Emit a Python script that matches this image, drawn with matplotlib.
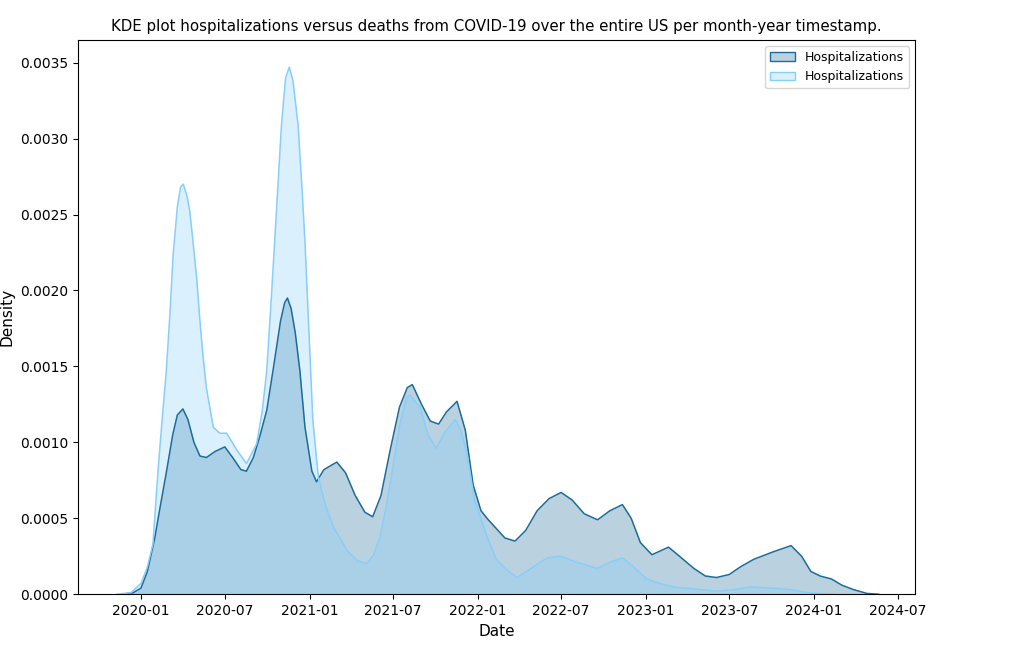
import matplotlib
matplotlib.use('Agg')

import matplotlib.pyplot as plt
import matplotlib.dates as mdates
import pandas as pd

# === Data (density per date) ===
hosp_dates = [
    "2019-11-20", "2019-12-15", "2020-01-01", "2020-01-15", "2020-01-31", "2020-02-12",
    "2020-02-25", "2020-03-10", "2020-03-20", "2020-04-01", "2020-04-12", "2020-04-25",
    "2020-05-08", "2020-05-22", "2020-06-10", "2020-07-01", "2020-07-18", "2020-08-05",
    "2020-08-17", "2020-09-01", "2020-09-15", "2020-09-30", "2020-10-15", "2020-10-30",
    "2020-11-08", "2020-11-14", "2020-11-22", "2020-12-01", "2020-12-11", "2020-12-22",
    "2021-01-06", "2021-01-16", "2021-02-01", "2021-03-01", "2021-03-20", "2021-04-10",
    "2021-05-01", "2021-05-18", "2021-06-05", "2021-06-25", "2021-07-15", "2021-08-01",
    "2021-08-12", "2021-09-01", "2021-09-20", "2021-10-08", "2021-10-25", "2021-11-17",
    "2021-12-05", "2021-12-22", "2022-01-08", "2022-01-21", "2022-02-05", "2022-03-01",
    "2022-03-23", "2022-04-15", "2022-05-10", "2022-06-05", "2022-07-01", "2022-07-25",
    "2022-08-20", "2022-09-18", "2022-10-15", "2022-11-11", "2022-11-30", "2022-12-20",
    "2023-01-14", "2023-02-19", "2023-03-15", "2023-04-15", "2023-05-10", "2023-06-03",
    "2023-07-01", "2023-07-25", "2023-08-23", "2023-10-05", "2023-11-12", "2023-12-05",
    "2023-12-25", "2024-01-14", "2024-02-08", "2024-03-01", "2024-03-27", "2024-04-25",
    "2024-05-20",
]
hosp_density = [
    0.0, 0.00001, 0.00004, 0.00015, 0.00037, 0.00058,
    0.00080, 0.00105, 0.00118, 0.00122, 0.00115, 0.00100,
    0.00091, 0.00090, 0.00094, 0.00097, 0.00090, 0.00082,
    0.00081, 0.00090, 0.00104, 0.00121, 0.00150, 0.00180,
    0.00192, 0.00195, 0.00188, 0.00172, 0.00147, 0.00110,
    0.00081, 0.00074, 0.00082, 0.00087, 0.00080, 0.00065,
    0.00054, 0.00051, 0.00065, 0.00095, 0.00123, 0.00136,
    0.00138, 0.00125, 0.00114, 0.00112, 0.00120, 0.00127,
    0.00108, 0.00072, 0.00055, 0.00050, 0.00045, 0.00037,
    0.00035, 0.00042, 0.00055, 0.00063, 0.00067, 0.00062,
    0.00053, 0.00049, 0.00055, 0.00059, 0.00050, 0.00034,
    0.00026, 0.00031, 0.00025, 0.00017, 0.00012, 0.00011,
    0.00013, 0.00018, 0.00023, 0.00028, 0.00032, 0.00025,
    0.00015, 0.00012, 0.00010, 0.00006, 0.00003, 0.000005,
    0.0,
]

# second series (labelled the same in the original legend)
second_dates = [
    "2019-11-10", "2019-12-10", "2020-01-01", "2020-01-15", "2020-01-27", "2020-02-07",
    "2020-02-16", "2020-02-25", "2020-03-04", "2020-03-11", "2020-03-20", "2020-03-27",
    "2020-04-02", "2020-04-10", "2020-04-16", "2020-04-22", "2020-05-01", "2020-05-08",
    "2020-05-15", "2020-05-22", "2020-06-06", "2020-06-20", "2020-07-05", "2020-07-27",
    "2020-08-17", "2020-09-08", "2020-09-20", "2020-09-30", "2020-10-10", "2020-10-22",
    "2020-11-01", "2020-11-10", "2020-11-18", "2020-11-26", "2020-12-07", "2020-12-15",
    "2020-12-22", "2020-12-31", "2021-01-08", "2021-01-20", "2021-02-05", "2021-02-22",
    "2021-03-23", "2021-04-15", "2021-05-05", "2021-05-20", "2021-06-03", "2021-06-18",
    "2021-07-02", "2021-07-16", "2021-07-31", "2021-08-07", "2021-08-29", "2021-09-15",
    "2021-10-03", "2021-10-20", "2021-11-13", "2021-11-25", "2021-12-09", "2021-12-25",
    "2022-01-21", "2022-02-10", "2022-03-05", "2022-03-27", "2022-05-02", "2022-06-01",
    "2022-07-01", "2022-08-05", "2022-09-17", "2022-10-15", "2022-11-11", "2022-12-05",
    "2023-01-03", "2023-02-01", "2023-03-02", "2023-05-01", "2023-06-04", "2023-07-10",
    "2023-08-16", "2023-10-01", "2023-11-11", "2023-12-20", "2024-01-15", "2024-02-15",
]
second_density = [
    0.0, 0.00001, 0.00007, 0.00018, 0.00033, 0.00081,
    0.00115, 0.00147, 0.00185, 0.00224, 0.00255, 0.00268,
    0.00270, 0.00262, 0.00252, 0.00235, 0.00208, 0.00180,
    0.00156, 0.00136, 0.00110, 0.00106, 0.00106, 0.00095,
    0.00086, 0.00099, 0.00120, 0.00147, 0.00195, 0.00257,
    0.00309, 0.00340, 0.00347, 0.00338, 0.00309, 0.00270,
    0.00232, 0.00170, 0.00115, 0.00077, 0.00058, 0.00044,
    0.00029, 0.00022, 0.00020, 0.00026, 0.00038, 0.00060,
    0.00086, 0.00112, 0.00130, 0.00131, 0.00123, 0.00105,
    0.00096, 0.00106, 0.00115, 0.00108, 0.00092, 0.00062,
    0.00038, 0.00023, 0.00016, 0.00011, 0.00018, 0.00024,
    0.00025, 0.00021, 0.00017, 0.00021, 0.00024, 0.00018,
    0.00010, 0.00007, 0.000048, 0.00003, 0.00002, 0.00003,
    0.000048, 0.00004, 0.00003, 0.00001, 0.000005, 0.0,
]

series_labels = ["Hospitalizations", "Hospitalizations"]
dark_color = "#1d6b98"
light_color = "#87cefa"

# === Plot ===
fig = plt.figure(figsize=(10.24, 6.53), dpi=100)
ax = fig.add_axes([0.076, 0.090, 0.818, 0.849])

x1 = pd.to_datetime(hosp_dates)
x2 = pd.to_datetime(second_dates)

ax.fill_between(x1, hosp_density, color=dark_color, alpha=0.3, linewidth=0)
ax.plot(x1, hosp_density, color=dark_color, linewidth=1.1)
ax.fill_between(x2, second_density, color=light_color, alpha=0.3, linewidth=0)
ax.plot(x2, second_density, color=light_color, linewidth=1.1)

# legend patches like seaborn's filled kde
handles = [
    plt.Rectangle((0, 0), 1, 1, facecolor=matplotlib.colors.to_rgba(dark_color, 0.3),
                  edgecolor=dark_color, label=series_labels[0]),
    plt.Rectangle((0, 0), 1, 1, facecolor=matplotlib.colors.to_rgba(light_color, 0.3),
                  edgecolor=light_color, label=series_labels[1]),
]
ax.legend(handles=handles, loc="upper right", fontsize=9)

ax.set_xlim(pd.Timestamp("2019-08-17"), pd.Timestamp("2024-08-08"))
ax.set_ylim(0, 0.003650)
ax.xaxis.set_major_locator(mdates.MonthLocator(bymonth=[1, 7]))
ax.xaxis.set_major_formatter(mdates.DateFormatter("%Y-%m"))
ax.set_yticks([0.0, 0.0005, 0.0010, 0.0015, 0.0020, 0.0025, 0.0030, 0.0035])
ax.set_yticklabels([f"{v:.4f}" for v in ax.get_yticks()])

ax.set_title("KDE plot hospitalizations versus deaths from COVID-19 over the entire US per month-year timestamp.",
             fontsize=10.8)
ax.set_xlabel("Date", fontsize=11)
ax.set_ylabel("Density", fontsize=11)

fig.savefig("out.png", dpi=100)
